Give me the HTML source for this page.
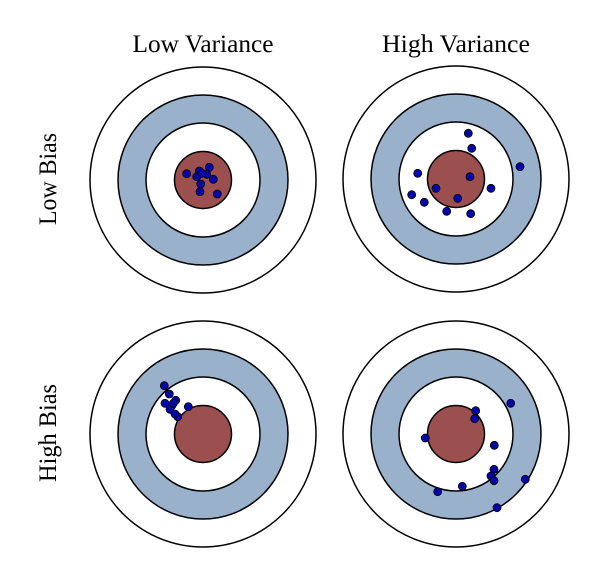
<!DOCTYPE html>
<html><head><meta charset="utf-8"><style>body{margin:0;background:#fff}svg{display:block}</style></head>
<body>
<svg width="600" height="561" viewBox="0 0 600 561" xmlns="http://www.w3.org/2000/svg">
<defs>
<g id="t">
<circle r="113" fill="#fff" stroke="#000" stroke-width="1.5"/>
<circle r="85" fill="#9ab1cc" stroke="#000" stroke-width="1.5"/>
<circle r="57" fill="#fff" stroke="#000" stroke-width="1.5"/>
<circle r="28.5" fill="#9c4f4f" stroke="#000" stroke-width="1.5"/>
</g>
</defs>
<g font-family="Liberation Serif, serif" font-size="25" fill="#000">
<text x="203" y="52" text-anchor="middle" textLength="141" lengthAdjust="spacingAndGlyphs">Low Variance</text>
<text x="456" y="52" text-anchor="middle" textLength="148" lengthAdjust="spacingAndGlyphs">High Variance</text>
<text transform="translate(56,179) rotate(-90)" text-anchor="middle" textLength="92" lengthAdjust="spacingAndGlyphs">Low Bias</text>
<text transform="translate(56,433) rotate(-90)" text-anchor="middle" textLength="98" lengthAdjust="spacingAndGlyphs">High Bias</text>
</g>
<use href="#t" x="203" y="180"/>
<use href="#t" x="456" y="179"/>
<use href="#t" x="203" y="434"/>
<use href="#t" x="456" y="434"/>
<g fill="#0505a8" stroke="#000" stroke-width="0.8">
<circle cx="186.7" cy="173.7" r="4"/><circle cx="199.3" cy="171" r="4"/><circle cx="209.3" cy="167.3" r="4"/><circle cx="196.7" cy="176.7" r="4"/><circle cx="206.7" cy="174.3" r="4"/><circle cx="213.3" cy="179.3" r="4"/><circle cx="200.7" cy="184" r="4"/><circle cx="200" cy="191.7" r="4"/><circle cx="217.3" cy="194" r="4"/><circle cx="202" cy="173.3" r="4"/>
<circle cx="468.3" cy="133.3" r="4"/><circle cx="471.7" cy="148.3" r="4"/><circle cx="520" cy="166.7" r="4"/><circle cx="417.7" cy="173.3" r="4"/><circle cx="470" cy="176.7" r="4"/><circle cx="491" cy="188.3" r="4"/><circle cx="436" cy="188.3" r="4"/><circle cx="411.7" cy="194.7" r="4"/><circle cx="424.3" cy="202.3" r="4"/><circle cx="457.7" cy="198.3" r="4"/><circle cx="446.7" cy="211.3" r="4"/><circle cx="470.7" cy="213.7" r="4"/>
<circle cx="164.3" cy="385.7" r="4"/><circle cx="169.3" cy="394" r="4"/><circle cx="175.7" cy="400.3" r="4"/><circle cx="165" cy="403.3" r="4"/><circle cx="171.7" cy="405.7" r="4"/><circle cx="170" cy="409.3" r="4"/><circle cx="188.3" cy="406.7" r="4"/><circle cx="177.7" cy="416.7" r="4"/><circle cx="175" cy="414" r="4"/><circle cx="173.3" cy="403.3" r="4"/>
<circle cx="510.7" cy="403.3" r="4"/><circle cx="475.7" cy="410.7" r="4"/><circle cx="474.7" cy="418.7" r="4"/><circle cx="425.3" cy="438" r="4"/><circle cx="494.3" cy="445.3" r="4"/><circle cx="494" cy="469.3" r="4"/><circle cx="491" cy="476" r="4"/><circle cx="494" cy="480.7" r="4"/><circle cx="525.3" cy="479.3" r="4"/><circle cx="462.3" cy="486.3" r="4"/><circle cx="437.7" cy="491.7" r="4"/><circle cx="497" cy="507.7" r="4"/>
</g>
</svg>
</body></html>
